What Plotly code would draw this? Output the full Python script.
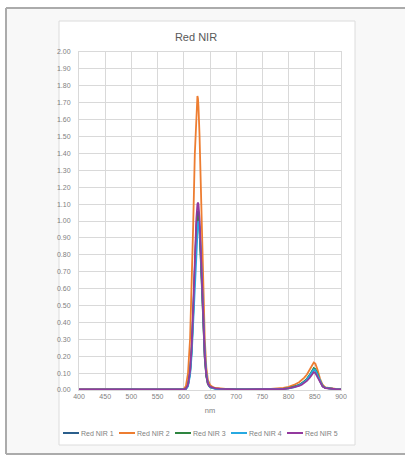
import plotly.graph_objects as go

# Wavelength samples (nm)
wavelength = [400, 420, 440, 460, 480, 500, 520, 540, 560, 570, 580, 585, 590, 595,
              600, 604, 608, 612, 615, 618, 621, 624, 626, 627, 628, 630, 632, 634,
              637, 640, 643, 646, 650, 655, 660, 670, 680, 690, 700, 720, 740, 760,
              770, 780, 790, 800, 810, 820, 825, 830, 835, 840, 845, 848, 851, 855,
              860, 865, 870, 880, 890, 900]

red_nir_1 = [0.003, 0.002, 0.003, 0.002, 0.003, 0.002, 0.002, 0.003, 0.003, 0.003, 0.003, 0.003, 0.003, 0.003,
             0.004, 0.008, 0.029, 0.109, 0.246, 0.466, 0.737, 0.969, 1.051, 1.060, 1.049, 0.968, 0.823, 0.646,
             0.385, 0.194, 0.083, 0.036, 0.018, 0.012, 0.009, 0.006, 0.005, 0.004, 0.003, 0.003, 0.003, 0.004,
             0.004, 0.005, 0.007, 0.011, 0.018, 0.030, 0.038, 0.050, 0.064, 0.083, 0.108, 0.120, 0.114, 0.088,
             0.047, 0.022, 0.012, 0.007, 0.005, 0.004]

red_nir_2 = [0.003, 0.003, 0.002, 0.003, 0.003, 0.002, 0.003, 0.003, 0.003, 0.003, 0.003, 0.003, 0.003, 0.004,
             0.006, 0.024, 0.098, 0.305, 0.593, 0.985, 1.393, 1.679, 1.740, 1.725, 1.679, 1.509, 1.263, 0.985,
             0.593, 0.305, 0.133, 0.060, 0.030, 0.018, 0.012, 0.008, 0.006, 0.005, 0.004, 0.004, 0.004, 0.005,
             0.006, 0.008, 0.012, 0.019, 0.030, 0.046, 0.058, 0.073, 0.092, 0.117, 0.148, 0.162, 0.156, 0.122,
             0.066, 0.031, 0.016, 0.009, 0.006, 0.005]

red_nir_3 = [0.002, 0.003, 0.002, 0.003, 0.002, 0.003, 0.002, 0.002, 0.003, 0.002, 0.003, 0.003, 0.003, 0.003,
             0.003, 0.007, 0.028, 0.106, 0.239, 0.453, 0.716, 0.942, 1.021, 1.030, 1.020, 0.941, 0.800, 0.628,
             0.374, 0.188, 0.080, 0.034, 0.017, 0.011, 0.008, 0.006, 0.004, 0.004, 0.003, 0.003, 0.003, 0.004,
             0.004, 0.005, 0.007, 0.011, 0.018, 0.029, 0.038, 0.050, 0.066, 0.088, 0.116, 0.130, 0.124, 0.097,
             0.052, 0.024, 0.013, 0.007, 0.005, 0.004]

red_nir_4 = [0.002, 0.002, 0.003, 0.002, 0.002, 0.003, 0.002, 0.003, 0.002, 0.003, 0.002, 0.003, 0.003, 0.003,
             0.003, 0.005, 0.022, 0.088, 0.207, 0.400, 0.646, 0.872, 0.960, 0.988, 1.000, 0.960, 0.850, 0.693,
             0.437, 0.230, 0.101, 0.040, 0.016, 0.010, 0.007, 0.005, 0.004, 0.003, 0.003, 0.003, 0.003, 0.004,
             0.004, 0.005, 0.007, 0.010, 0.016, 0.027, 0.035, 0.047, 0.062, 0.083, 0.109, 0.122, 0.117, 0.091,
             0.049, 0.023, 0.012, 0.007, 0.005, 0.004]

red_nir_5 = [0.003, 0.003, 0.002, 0.003, 0.003, 0.003, 0.002, 0.003, 0.003, 0.003, 0.003, 0.003, 0.003, 0.003,
             0.004, 0.008, 0.031, 0.115, 0.258, 0.488, 0.772, 1.015, 1.100, 1.110, 1.099, 1.014, 0.862, 0.676,
             0.403, 0.203, 0.087, 0.038, 0.019, 0.013, 0.010, 0.007, 0.005, 0.004, 0.003, 0.003, 0.003, 0.004,
             0.004, 0.005, 0.006, 0.009, 0.015, 0.024, 0.031, 0.041, 0.054, 0.071, 0.093, 0.105, 0.100, 0.078,
             0.042, 0.020, 0.011, 0.006, 0.005, 0.004]

series_names = ["Red NIR 1", "Red NIR 2", "Red NIR 3", "Red NIR 4", "Red NIR 5"]
series_values = [red_nir_1, red_nir_2, red_nir_3, red_nir_4, red_nir_5]
series_colors = ["#2b5f8c", "#ed7d31", "#2e8540", "#27a9e1", "#93399e"]

W, H = 405, 457
L, R, T, B = 79, 64, 52, 67
PW, PH = W - L - R, H - T - B

def px_x(px):
    return (px - L) / PW

def px_y(py):
    return (H - B - py) / PH

FONT = "Liberation Sans"
TXT = "#7f7f7f"
FRAME = "#ababab"

fig = go.Figure()
for name, vals, col in zip(series_names, series_values, series_colors):
    fig.add_trace(go.Scatter(x=wavelength, y=vals, name=name, mode="lines",
                             line=dict(color=col, width=1.8), showlegend=False))

shapes = [
    # outer panel fill
    dict(type="rect", xref="paper", yref="paper", layer="below",
         x0=px_x(6), x1=px_x(W), y0=px_y(454), y1=px_y(8),
         line=dict(width=0), fillcolor="#f8f8f8"),
    # outer panel border: top, left, bottom (open on the right)
    dict(type="line", xref="paper", yref="paper", layer="below",
         x0=px_x(6), x1=px_x(W), y0=px_y(8), y1=px_y(8),
         line=dict(color=FRAME, width=2)),
    dict(type="line", xref="paper", yref="paper", layer="below",
         x0=px_x(6), x1=px_x(6), y0=px_y(8), y1=px_y(454),
         line=dict(color=FRAME, width=2)),
    dict(type="line", xref="paper", yref="paper", layer="below",
         x0=px_x(6), x1=px_x(W), y0=px_y(454), y1=px_y(454),
         line=dict(color=FRAME, width=2)),
    # chart area
    dict(type="rect", xref="paper", yref="paper", layer="below",
         x0=px_x(59), x1=px_x(355), y0=px_y(445), y1=px_y(21),
         line=dict(color="#dcdcdc", width=1), fillcolor="#ffffff"),
]
annotations = []

# legend row
leg_y = px_y(433)
leg_x0 = 63
leg_step = 56
for i, (name, col) in enumerate(zip(series_names, series_colors)):
    x0 = leg_x0 + i * leg_step
    shapes.append(dict(type="line", xref="paper", yref="paper",
                       x0=px_x(x0), x1=px_x(x0 + 16), y0=leg_y, y1=leg_y,
                       line=dict(color=col, width=2)))
    annotations.append(dict(xref="paper", yref="paper", x=px_x(x0 + 16), y=leg_y,
                            xanchor="left", yanchor="middle", showarrow=False,
                            text=name, font=dict(family=FONT, size=7, color=TXT)))

fig.update_layout(
    width=W, height=H,
    margin=dict(l=L, r=R, t=T, b=B),
    paper_bgcolor="#ffffff",
    plot_bgcolor="#ffffff",
    title=dict(text="Red NIR", x=196 / W, xanchor="center",
               y=1 - 37 / H, yanchor="middle",
               font=dict(family=FONT, size=11, color="#595959")),
    shapes=shapes,
    annotations=annotations,
    xaxis=dict(range=[400, 900], dtick=50, tick0=400, showgrid=True,
               gridcolor="#d9d9d9", gridwidth=1, zeroline=False,
               showline=True, linecolor="#d9d9d9", mirror=True,
               ticks="", tickfont=dict(family=FONT, size=7, color=TXT),
               title=dict(text="nm", font=dict(family=FONT, size=7.5, color=TXT), standoff=8)),
    yaxis=dict(range=[0, 2], dtick=0.1, tick0=0, tickformat=".2f", showgrid=True,
               gridcolor="#d9d9d9", gridwidth=1, zeroline=False,
               showline=True, linecolor="#d9d9d9", mirror=True,
               ticks="", ticklabelstandoff=6,
               tickfont=dict(family=FONT, size=7, color=TXT)),
    showlegend=False,
)

fig.write_html("out.html")
